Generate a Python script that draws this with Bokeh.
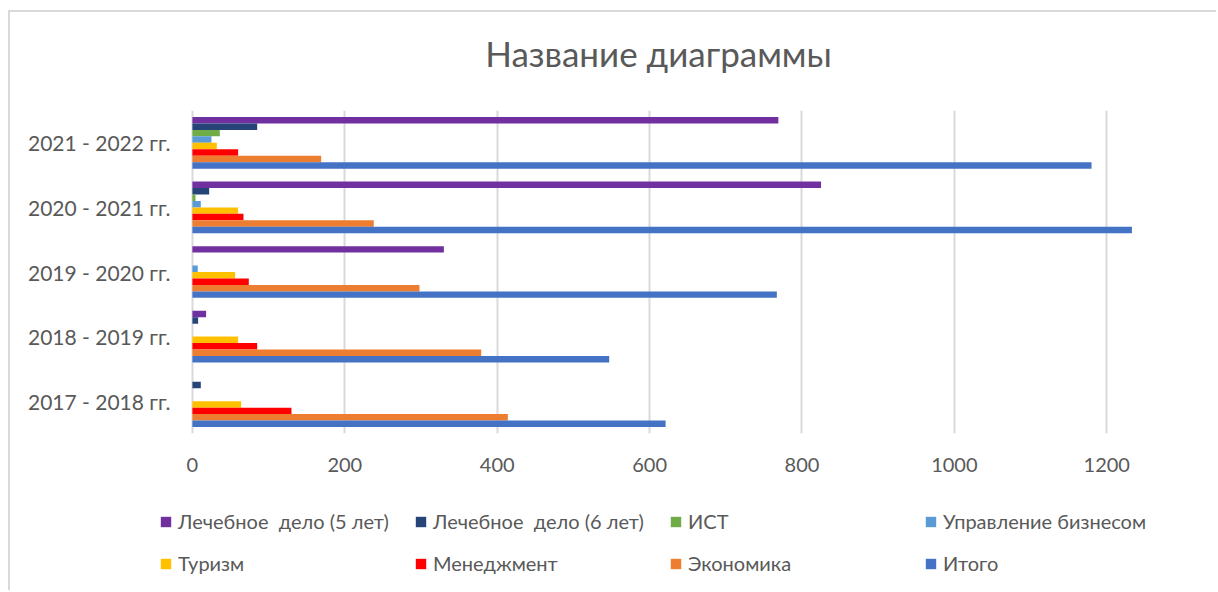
from bokeh.plotting import figure
from bokeh.layouts import column
from bokeh.models import (FactorRange, Range1d, Legend, LegendItem, ColumnDataSource,
                          SingleIntervalTicker, Label)
from bokeh.transform import dodge
from bokeh.embed import file_html
from bokeh.resources import INLINE

# ---- data ----
title_text = "Название диаграммы"
years = ["2017 - 2018 гг.", "2018 - 2019 гг.", "2019 - 2020 гг.", "2020 - 2021 гг.", "2021 - 2022 гг."]
series_names = ["Лечебное  дело (5 лет)", "Лечебное  дело (6 лет)", "ИСТ", "Управление бизнесом",
                "Туризм", "Менеджмент", "Экономика", "Итого"]
med5 = [0, 18, 330, 825, 769]
med6 = [11, 7.5, 0, 22, 85]
ist = [0, 0, 0, 4, 36]
biz = [0, 0, 7, 11, 25]
tourism = [64, 60, 56, 60, 32]
management = [130, 85, 74, 67, 60]
economics = [414, 379, 298, 238, 169]
total = [621, 547, 767, 1233, 1180]

colors = ["#7030A0", "#264478", "#70AD47", "#5B9BD5", "#FFC000", "#FF0000", "#ED7D31", "#4472C4"]
values = [med5, med6, ist, biz, tourism, management, economics, total]

data = {"year": years}
for i, v in enumerate(values):
    data["s%d" % i] = v
src = ColumnDataSource(data)

TXT = "#595959"
FONT = "Lato"
W = 1206
FRAME_W = 1066


def blank(height):
    f = figure(width=W, height=height, x_range=Range1d(0, FRAME_W), y_range=Range1d(0, height),
               output_backend="svg", toolbar_location=None,
               min_border_left=0, min_border_right=0, min_border_top=0, min_border_bottom=0)
    f.axis.visible = False
    f.grid.visible = False
    f.outline_line_color = None
    f.title.visible = False
    return f


# title panel
t = blank(98)
t.add_layout(Label(x=508, y=58, text=title_text, text_align="center", text_baseline="middle",
                   text_font=FONT, text_font_size="35px", text_color=TXT))

# main chart (x range starts a little below 0 so that the legend fits inside the aligned frames)
p = figure(width=W, height=380,
           y_range=FactorRange(*years), x_range=Range1d(-55, 1344),
           output_backend="svg", toolbar_location=None,
           min_border_left=140, min_border_right=0, min_border_top=0, min_border_bottom=57)
p.title.visible = False
p.outline_line_color = None
p.ygrid.grid_line_color = None
p.xgrid.grid_line_color = "#d9d9d9"
p.xgrid.grid_line_width = 2

p.xaxis.ticker = SingleIntervalTicker(interval=200)
p.xaxis.axis_line_color = None
p.xaxis.major_tick_line_color = None
p.xaxis.minor_tick_line_color = None
p.xaxis.major_label_standoff = 18
p.xaxis.major_label_text_font = FONT
p.xaxis.major_label_text_font_size = "20px"
p.xaxis.major_label_text_color = TXT

p.yaxis.axis_line_color = None
p.yaxis.major_tick_line_color = None
p.yaxis.minor_tick_line_color = None
p.yaxis.major_tick_out = 0
p.yaxis.major_label_standoff = -20
p.yaxis.major_label_text_font = FONT
p.yaxis.major_label_text_font_size = "21px"
p.yaxis.major_label_text_color = TXT

n = len(values)
for k in range(n):
    off = (3.5 - k) * 0.1
    p.hbar(y=dodge("year", off, range=p.y_range), left=0, right="s%d" % k, height=0.1,
           fill_color=colors[k], line_color=None, source=src)

# legend panel (renderers only carry the legend swatches; their data lies off-screen)
lg = blank(100)
items = []
for k in range(n):
    r = lg.hbar(y=[-1000], left=[0], right=[0], height=0.1, fill_color=colors[k], line_color=None)
    items.append(LegendItem(label=series_names[k], renderers=[r]))

legend = Legend(items=items, ncols=4, orientation="horizontal", location=(9, 15),
                glyph_width=13, glyph_height=13, label_standoff=6, label_width=218, label_height=20,
                spacing=18, padding=0, margin=0, border_line_color=None, background_fill_alpha=0,
                label_text_font=FONT, label_text_font_size="20px", label_text_color=TXT)
lg.add_layout(legend, "center")

layout = column(t, p, lg, spacing=0)
layout.styles = {"border-top": "2px solid #d9d9d9", "border-left": "2px solid #d9d9d9",
                 "margin-left": "8px", "margin-top": "10px"}

open("out.html", "w").write(file_html(layout, INLINE))
